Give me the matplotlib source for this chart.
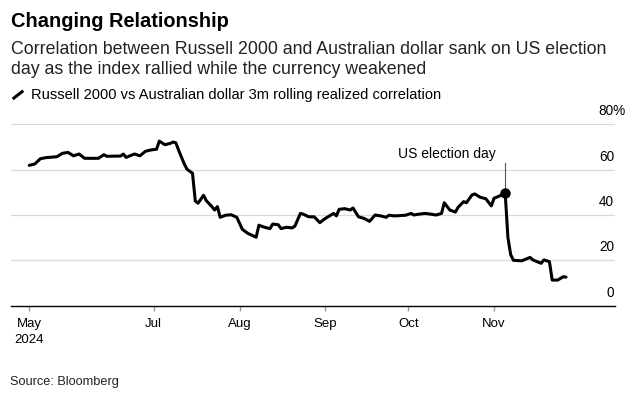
import numpy as np
import pandas as pd
import matplotlib
matplotlib.use("Agg")
import matplotlib.pyplot as plt
import matplotlib.dates as mdates
from matplotlib.lines import Line2D

# ---- data ----
dates = [
    "2024-05-17", "2024-05-19", "2024-05-21", "2024-05-23", "2024-05-27", "2024-05-29",
    "2024-05-31", "2024-06-02", "2024-06-04", "2024-06-06", "2024-06-11", "2024-06-13",
    "2024-06-14", "2024-06-19", "2024-06-20", "2024-06-21", "2024-06-24", "2024-06-26",
    "2024-06-28", "2024-06-30", "2024-07-02", "2024-07-03", "2024-07-05", "2024-07-07",
    "2024-07-08", "2024-07-09", "2024-07-10", "2024-07-12", "2024-07-13", "2024-07-15",
    "2024-07-16", "2024-07-17", "2024-07-19", "2024-07-20", "2024-07-22", "2024-07-23",
    "2024-07-24", "2024-07-25", "2024-07-27", "2024-07-29", "2024-07-31", "2024-08-02",
    "2024-08-04", "2024-08-07", "2024-08-08", "2024-08-10", "2024-08-12", "2024-08-13",
    "2024-08-15", "2024-08-16", "2024-08-18", "2024-08-20", "2024-08-21", "2024-08-23",
    "2024-08-24", "2024-08-26", "2024-08-28", "2024-08-30", "2024-09-01", "2024-09-04",
    "2024-09-05", "2024-09-06", "2024-09-08", "2024-09-10", "2024-09-11", "2024-09-13",
    "2024-09-15", "2024-09-17", "2024-09-19", "2024-09-21", "2024-09-23", "2024-09-24",
    "2024-09-26", "2024-09-30", "2024-10-02", "2024-10-03", "2024-10-05", "2024-10-07",
    "2024-10-09", "2024-10-11", "2024-10-13", "2024-10-14", "2024-10-16", "2024-10-18",
    "2024-10-19", "2024-10-21", "2024-10-22", "2024-10-24", "2024-10-25", "2024-10-27",
    "2024-10-29", "2024-10-31", "2024-11-01", "2024-11-03", "2024-11-05", "2024-11-06",
    "2024-11-07", "2024-11-08", "2024-11-11", "2024-11-14", "2024-11-15", "2024-11-18",
    "2024-11-19", "2024-11-21", "2024-11-22", "2024-11-24", "2024-11-26", "2024-11-27",
]
correlation = [
    61.9, 62.5, 64.8, 65.3, 65.7, 67.2,
    67.6, 66.1, 66.9, 65.0, 65.0, 66.6,
    65.9, 66.0, 66.9, 65.4, 66.9, 66.1,
    68.1, 68.7, 69.0, 72.6, 71.0, 71.6,
    72.2, 71.8, 68.5, 62.6, 60.2, 58.4,
    46.2, 45.2, 48.7, 46.3, 43.7, 42.2,
    43.7, 39.0, 39.9, 40.1, 39.0, 33.7,
    31.9, 30.2, 35.5, 34.6, 34.0, 36.0,
    35.7, 34.0, 34.6, 34.3, 35.1, 40.7,
    40.4, 39.2, 39.2, 36.6, 38.5, 40.7,
    39.6, 42.5, 42.8, 42.2, 43.1, 39.2,
    38.5, 37.2, 40.0, 39.6, 39.0, 39.9,
    39.6, 39.9, 40.7, 40.0, 40.4, 40.7,
    40.4, 40.0, 40.7, 45.4, 42.2, 41.3,
    43.4, 45.9, 45.4, 48.8, 49.3, 47.8,
    47.2, 44.0, 47.4, 48.4, 49.8, 30.0,
    22.5, 20.0, 19.8, 21.3, 20.2, 18.7,
    20.2, 19.4, 11.3, 11.3, 12.8, 12.6,
]
election_day = "2024-11-05"
election_value = 49.8

tick_dates = ["2024-05-17", "2024-07-01", "2024-08-01", "2024-09-01", "2024-10-01", "2024-11-01"]
tick_labels = ["May\n2024", "Jul", "Aug", "Sep", "Oct", "Nov"]
y_ticks = [0, 20, 40, 60, 80]

x = pd.to_datetime(dates)

plt.rcParams.update({
    "font.family": ["Liberation Sans", "DejaVu Sans"],
    "savefig.facecolor": "white",
})

W, H = 638, 396
fig = plt.figure(figsize=(W / 100, H / 100), dpi=100)


def fx(px):
    return px / W


def fy(py):
    return 1 - py / H


ax = fig.add_axes([fx(11), fy(305.7), fx(615) - fx(11), fy(124.3) - fy(305.7)])

# series
ax.plot(x, correlation, color="black", linewidth=2.2, solid_joinstyle="round",
        solid_capstyle="round", zorder=3)

# election day marker + leader line
ed = pd.Timestamp(election_day)
ax.plot([ed, ed], [election_value, 62.8], color="#555555", linewidth=0.8, zorder=2)
ax.plot([ed], [election_value], marker="o", markersize=6.5, color="black", zorder=4)
ax.annotate("US election day", xy=(ed, 65.0), xytext=(-7, 0), textcoords="offset points",
            ha="right", va="baseline", fontsize=10, color="black")

# axes limits
jul1 = mdates.date2num(pd.Timestamp("2024-07-01"))
ax.set_xlim(jul1 - 51.6, jul1 + 166.7)
ax.set_ylim(0, 80)

# grid (horizontal only)
for v in y_ticks[1:]:
    ax.axhline(v, color="#d9d9d9", linewidth=0.9, zorder=0)
ax.set_yticks([])

# right-side value labels, sitting just above their gridline
ytr = ax.get_yaxis_transform()
for v in y_ticks:
    if v == y_ticks[-1]:
        # digits stay aligned with the others, the % sign hangs to the right
        ax.annotate(f"{v}%", xy=(0.9985, v), xycoords=ytr, xytext=(-11.2, 6.5),
                    textcoords="offset points", ha="left", va="baseline", fontsize=9.8,
                    annotation_clip=False)
    else:
        ax.annotate(str(v), xy=(0.9985, v), xycoords=ytr, xytext=(0, 6.5),
                    textcoords="offset points", ha="right", va="baseline", fontsize=9.8,
                    annotation_clip=False)

# x axis
ax.set_xticks(pd.to_datetime(tick_dates))
ax.set_xticklabels(tick_labels, fontsize=9.5)
for lbl in ax.get_xticklabels():
    lbl.set_linespacing(1.45)
    lbl.set_horizontalalignment("center")
ax.tick_params(axis="x", length=3.6, width=1.0, color="#999999", pad=5)
ax.tick_params(axis="y", length=0)

for side in ("top", "right", "left"):
    ax.spines[side].set_visible(False)
ax.spines["bottom"].set_color("black")
ax.spines["bottom"].set_linewidth(1.0)
ax.spines["bottom"].set_zorder(5)

# titles
fig.text(fx(11), fy(27.3), "Changing Relationship", fontsize=14.4, fontweight="bold",
         ha="left", va="baseline")
fig.text(fx(11), fy(54), "Correlation between Russell 2000 and Australian dollar sank on US election",
         fontsize=12.75, ha="left", va="baseline", color="#222222")
fig.text(fx(11), fy(74), "day as the index rallied while the currency weakened",
         fontsize=12.75, ha="left", va="baseline", color="#222222")

# legend key
fig.add_artist(Line2D([fx(12.7), fx(23.3)], [fy(99), fy(90.7)], color="black",
                      linewidth=2.2, solid_capstyle="butt", transform=fig.transFigure))
fig.text(fx(30.7), fy(99), "Russell 2000 vs Australian dollar 3m rolling realized correlation",
         fontsize=10.5, ha="left", va="baseline")

fig.text(fx(10), fy(385), "Source: Bloomberg", fontsize=9.2, ha="left", va="baseline",
         color="#222222")

fig.savefig("out.png", dpi=100, facecolor="white")
